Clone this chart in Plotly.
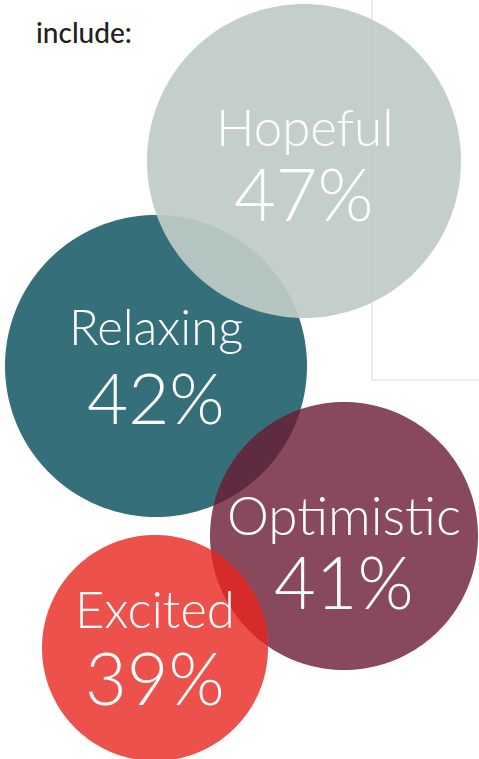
import numpy as np
import plotly.graph_objects as go

# Survey words and their shares
words = ["Hopeful", "Relaxing", "Optimistic", "Excited"]
shares = [47, 42, 41, 39]

# Bubble layout (pixel space of the 479x759 canvas, y downwards)
cx = [304, 156, 344, 155]
cy = [161, 366, 536, 648]
radius = [157, 151, 134, 113]
fill = ["rgba(191,203,199,0.92)", "#35707a", "#89495c", "#ec514b"]
draw_order = [1, 0, 2, 3]

# Overlapping pairs and the tint of their shared area
overlaps = [(1, 2, "#5f2b40"), (2, 3, "#d52b2a")]

# Text placement relative to each bubble
word_dy = [-35, -40, -22, -40]
pct_dy = [32, 30, 45, 29]
word_size = [51, 49, 53, 51]
pct_size = [72, 71, 72, 72]

W, H = 479, 759
FONT = "Lato"


def circle_path(x0, y0, r, n=180):
    t = np.linspace(0, 2 * np.pi, n, endpoint=False)
    pts = [(x0 + r * np.cos(a), y0 + r * np.sin(a)) for a in t]
    return "M " + " L ".join(f"{x:.2f},{y:.2f}" for x, y in pts) + " Z"


def lens_path(i, j, n=720):
    t = np.linspace(0, 2 * np.pi, n, endpoint=False)
    pts = []
    for a, b in ((i, j), (j, i)):
        xs = cx[a] + radius[a] * np.cos(t)
        ys = cy[a] + radius[a] * np.sin(t)
        inside = (xs - cx[b]) ** 2 + (ys - cy[b]) ** 2 <= radius[b] ** 2
        pts += list(zip(xs[inside], ys[inside]))
    pts = np.array(pts)
    mx, my = pts.mean(axis=0)
    ang = np.arctan2(pts[:, 1] - my, pts[:, 0] - mx)
    pts = pts[np.argsort(ang)]
    return "M " + " L ".join(f"{x:.2f},{y:.2f}" for x, y in pts) + " Z"


shapes = [
    # thin frame lines behind the bubbles
    dict(type="line", x0=372, x1=372, y0=0, y1=380, xref="x", yref="y",
         line=dict(color="#ebebeb", width=2), layer="below"),
    dict(type="line", x0=372, x1=W, y0=380, y1=380, xref="x", yref="y",
         line=dict(color="#ebebeb", width=2), layer="below"),
]
for k in draw_order:
    shapes.append(dict(type="path", path=circle_path(cx[k], cy[k], radius[k]),
                       xref="x", yref="y", fillcolor=fill[k],
                       line=dict(width=0), layer="above"))
for a, b, col in overlaps:
    shapes.append(dict(type="path", path=lens_path(a, b), xref="x", yref="y",
                       fillcolor=col, line=dict(width=0), layer="above"))

annotations = [
    dict(text="include:", x=34, y=32, xref="x", yref="y", xanchor="left",
         yanchor="middle", showarrow=False,
         font=dict(family=FONT, size=28, color="#231f20", weight=500)),
]
for k in range(len(words)):
    annotations.append(dict(text=words[k], x=cx[k], y=cy[k] + word_dy[k],
                            xref="x", yref="y", showarrow=False,
                            xanchor="center", yanchor="middle",
                            font=dict(family=FONT, size=word_size[k],
                                      color="white", weight=300)))
    annotations.append(dict(text=f"{shares[k]}%", x=cx[k], y=cy[k] + pct_dy[k],
                            xref="x", yref="y", showarrow=False,
                            xanchor="center", yanchor="middle",
                            font=dict(family=FONT, size=pct_size[k],
                                      color="white", weight=300)))

fig = go.Figure()
fig.add_trace(go.Scatter(x=[0, W], y=[0, H], mode="markers",
                         marker=dict(opacity=0), hoverinfo="skip",
                         showlegend=False))
fig.update_layout(
    width=W, height=H,
    margin=dict(l=0, r=0, t=0, b=0),
    paper_bgcolor="white", plot_bgcolor="white",
    xaxis=dict(range=[0, W], visible=False, fixedrange=True),
    yaxis=dict(range=[H, 0], visible=False, fixedrange=True),
    shapes=shapes, annotations=annotations, showlegend=False,
)
fig.write_html("out.html", config={"displayModeBar": False})
